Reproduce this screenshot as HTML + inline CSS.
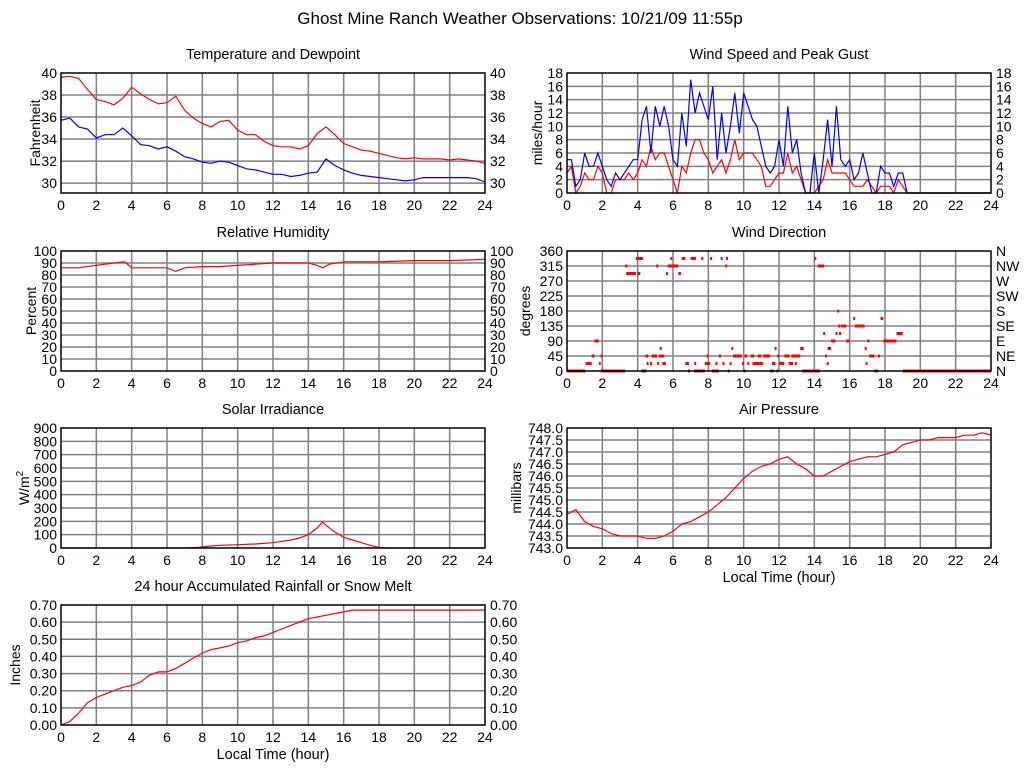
<!DOCTYPE html>
<html><head><meta charset="utf-8"><style>
body{margin:0;background:#fff;}
svg{display:block;font-family:"Liberation Sans",sans-serif;}
</style></head><body>
<svg id="c" width="1024" height="768" viewBox="0 0 1024 768" xmlns="http://www.w3.org/2000/svg">
<rect width="1024" height="768" fill="#fff"/>
<text x="520" y="24" font-size="17" text-anchor="middle">Ghost Mine Ranch Weather Observations: 10/21/09 11:55p</text>
</svg>
<script>
// ---- data ----
const hours05 = [0,0.5,1,1.5,2,2.5,3,3.5,4,4.5,5,5.5,6,6.5,7,7.5,8,8.5,9,9.5,10,10.5,11,11.5,12,12.5,13,13.5,14,14.5,15,15.5,16,16.5,17,17.5,18,18.5,19,19.5,20,20.5,21,21.5,22,22.5,23,23.5,24];
const tempVals = [39.6,39.7,39.5,38.5,37.6,37.4,37.1,37.7,38.7,38.1,37.6,37.2,37.3,37.9,36.6,35.9,35.4,35.1,35.6,35.7,34.8,34.4,34.4,33.8,33.4,33.3,33.3,33.1,33.4,34.5,35.1,34.4,33.6,33.3,33.0,32.9,32.7,32.5,32.3,32.2,32.3,32.2,32.2,32.2,32.1,32.2,32.1,32.0,31.8];
const dewVals = [35.7,35.9,35.1,34.9,34.1,34.4,34.4,35.0,34.3,33.5,33.4,33.1,33.3,32.9,32.4,32.2,31.9,31.8,32.0,31.9,31.6,31.3,31.2,31.0,30.8,30.8,30.6,30.7,30.9,31.0,32.2,31.6,31.2,30.9,30.7,30.6,30.5,30.4,30.3,30.2,30.3,30.5,30.5,30.5,30.5,30.5,30.5,30.4,30.1];
const rhHours = [0,1,2,3,3.6,4,5,6,6.5,7,8,9,10,11,12,13,14,14.5,14.8,15.2,16,17,18,20,22,24];
const rhVals = [86,86,88,90,91,86,86,86,83,86,87,87,88,89,90,90,90,88,86,89,91,91,91,92,92,93];
const solarHours = [0,6,7,7.8,8.5,9,10,11,12,13,13.5,14,14.5,14.8,15.1,15.5,16,16.5,17,17.5,18,18.5,24];
const solarVals = [0,0,0,5,15,20,25,30,40,60,75,100,150,195,160,120,80,60,40,20,5,0,0];
const pressVals = [744.4,744.6,744.1,743.9,743.8,743.6,743.5,743.5,743.5,743.4,743.4,743.5,743.7,744.0,744.1,744.3,744.5,744.8,745.1,745.5,745.9,746.2,746.4,746.5,746.7,746.8,746.5,746.3,746.0,746.0,746.2,746.4,746.6,746.7,746.8,746.8,746.9,747.0,747.3,747.4,747.5,747.5,747.6,747.6,747.6,747.7,747.7,747.8,747.7];
const rainVals = [0,0.02,0.07,0.13,0.16,0.18,0.20,0.22,0.23,0.25,0.29,0.31,0.31,0.33,0.36,0.39,0.42,0.44,0.45,0.46,0.48,0.49,0.51,0.52,0.54,0.56,0.58,0.60,0.62,0.63,0.64,0.65,0.66,0.67,0.67,0.67,0.67,0.67,0.67,0.67,0.67,0.67,0.67,0.67,0.67,0.67,0.67,0.67,0.67];
const gustVals = [5,5,1,2,6,4,4,6,4,2,1,3,2,3,4,5,5,11,13,6,13,10,13,10,5,4,12,7,17,12,15,13,11,16,5,12,6,10,15,9,15,13,11,10,7,4,3,4,8,4,13,6,8,3,0,0,6,0,5,11,4,13,5,4,5,2,3,6,3,0,0,4,3,3,1,3,3,0,0,0,0,0,0,0,0,0,0,0,0,0,0,0,0,0,0,0,0];
const avgVals = [3,4,0,1,3,2,2,4,3,0,0,2,2,2,3,2,3,5,4,7,5,6,6,4,2,0,4,3,6,8,8,6,5,3,4,5,3,5,8,5,6,6,6,5,4,1,1,2,3,3,6,3,4,2,0,0,0,1,2,5,3,3,3,3,2,1,1,1,2,1,0,1,1,1,0,2,1,0,0,0,0,0,0,0,0,0,0,0,0,0,0,0,0,0,0,0,0];
const dirStart = [0,1.05,1.4,1.55,1.8,1.9,1.9,3.3,3.35,3.9,4.0,4.2,4.45,4.5,4.7,4.8,5.05,5.1,5.25,5.2,5.4,5.6,5.7,5.85,6.3,6.5,6.7,6.85,7.0,7.2,7.2,7.6,7.8,7.9,8.1,8.2,8.4,8.6,8.7,8.8,8.95,9.0,9.1,9.2,9.3,9.4,9.9,10.0,10.05,10.2,10.4,10.5,10.8,10.9,11.1,11.5,11.6,11.75,11.85,11.9,12.0,12.3,12.55,12.7,12.9,13.2,13.3,14.0,14.2,14.5,14.6,14.7,14.75,14.95,15.2,15.3,15.35,15.4,15.5,15.8,16.2,16.3,16.85,16.9,17.0,17.1,17.4,17.6,17.75,17.9,18.65,19.0];
const dirEnd = [1.05,1.4,1.55,1.8,1.9,2.0,3.3,3.35,3.9,4.3,4.15,4.5,4.6,4.6,4.8,5.1,5.1,5.2,5.35,5.5,5.6,5.7,6.3,5.9,6.45,6.7,6.9,6.9,7.3,7.3,7.8,7.65,8.1,7.95,8.15,8.6,8.45,8.65,8.8,8.85,9.0,9.1,9.2,9.3,9.4,9.9,10.0,10.05,10.2,10.3,10.6,10.9,11.0,11.1,11.5,11.7,11.8,11.8,11.9,12.0,12.3,12.6,12.8,13.2,13.0,13.4,14.3,14.05,14.55,14.6,14.65,14.8,14.95,15.2,15.25,15.35,15.4,15.5,15.8,16.0,16.3,16.85,16.9,17.0,17.05,17.4,17.6,17.7,17.9,18.65,19.0,24];
const dirDeg = [0,22.5,45,90,22.5,45,0,315,292.5,337.5,292.5,0,45,22.5,22.5,45,315,22.5,67.5,45,22.5,292.5,315,337.5,292.5,337.5,22.5,0,337.5,22.5,0,337.5,22.5,45,337.5,0,22.5,45,337.5,22.5,315,337.5,0,22.5,67.5,45,22.5,0,45,22.5,45,22.5,45,22.5,45,0,22.5,67.5,0,45,22.5,45,22.5,45,22.5,67.5,0,337.5,315,112.5,45,22.5,67.5,90,112.5,180,135,112.5,135,90,157.5,135,67.5,22.5,90,45,0,45,157.5,90,112.5,0];
const hourTicks = [0,2,4,6,8,10,12,14,16,18,20,22,24];
const compassLabels = ["N","NE","E","SE","S","SW","W","NW","N"];

const svg = document.getElementById('c');
const NS = 'http://www.w3.org/2000/svg';
function mk(tag, attrs, parent){ const e=document.createElementNS(NS,tag); for(const k in attrs) e.setAttribute(k,attrs[k]); (parent||svg).appendChild(e); return e; }

function panel(o){
  const g = mk('g',{});
  
  
  const x0=o.x, x1=o.x+424, y0=o.y, y1=o.y+120;
  const sx = h => x0 + h/24*424;
  const sy = v => y1 - (v-o.min)/(o.max-o.min)*120;
  const t = mk('text',{x:(x0+x1)/2, y:y0-14, 'font-size':14.5, 'text-anchor':'middle'}, g);
  t.textContent = o.title;
  
  
  hourTicks.forEach(h=>{
    if(h>0&&h<24) mk('line',{x1:sx(h),x2:sx(h),y1:y0,y2:y1,stroke:'#808080','stroke-width':1.5},g);
    const l = mk('text',{x:sx(h), y:y1+17,'font-size':14,'text-anchor':'middle'},g);
    l.textContent = h;
    
    
  });
  o.ticks.forEach((v,i)=>{
    const y=sy(v);
    if(y>y0+0.5 && y<y1-0.5) mk('line',{x1:x0,x2:x1,y1:y,y2:y,stroke:'#808080','stroke-width':1.5},g);
    const lab = o.fmt(v);
    const l = mk('text',{x:x0-4, y:y+5,'font-size':14,'text-anchor':'end'},g);
    l.textContent = lab;
    
    
    if(o.right){
      const r = mk('text',{x:x1+5, y:y+5,'font-size':14},g);
      r.textContent = o.rightLabels ? o.rightLabels[i] : lab;
      
      
    }
  });
  const ya = mk('text',{x:0,y:0,'font-size':14,'text-anchor':'middle',transform:`translate(${o.ylx},${(y0+y1)/2}) rotate(-90)`},g);
  ya.innerHTML = o.ylabel;
  
  
  if(o.xlabel){
    const xl = mk('text',{x:(x0+x1)/2,y:y1+34,'font-size':14.5,'text-anchor':'middle'},g);
    xl.textContent='Local Time (hour)';
    
    
  }
  (o.series||[]).forEach(s=>{
    const d = s.xs.map((h,i)=>(i?'L':'M')+sx(h).toFixed(1)+','+sy(s.ys[i]).toFixed(1)).join('');
    const p = mk('path',{d:d,fill:'none',stroke:s.color,'stroke-width':1.2},g);
    
    
  });
  if(o.segs){
    o.segs.s.forEach((a,i)=>{
      const r = mk('rect',{x:sx(a),y:sy(o.segs.d[i])-1.5,width:Math.max(2,sx(o.segs.e[i])-sx(a)),height:3,fill:'#f00'},g);
      
      
    });
  }
  mk('rect',{x:x0,y:y0,width:424,height:120,fill:'none',stroke:'#000','stroke-width':1.5},g);
}
const rng=(a,b,s)=>{const r=[];for(let v=a;v<=b+1e-9;v+=s)r.push(+v.toFixed(3));return r;};
const qh = gustVals.map((_,i)=>i*0.25);

panel({name:'temperature-panel',title:'Temperature and Dewpoint',x:61,y:73,min:29.1,max:40,ticks:rng(30,40,2),fmt:v=>v,right:true,ylabel:'Fahrenheit',ylx:40,
  series:[{name:'temperature-line',xs:hours05,ys:tempVals,color:'#f00'},{name:'dewpoint-line',xs:hours05,ys:dewVals,color:'#00f'}]});
panel({name:'wind-speed-panel',title:'Wind Speed and Peak Gust',x:567,y:73,min:0,max:18,ticks:rng(0,18,2),fmt:v=>v,right:true,ylabel:'miles/hour',ylx:542,
  series:[{name:'avg-wind-line',xs:qh,ys:avgVals,color:'#f00'},{name:'gust-line',xs:qh,ys:gustVals,color:'#00f'}]});
panel({name:'humidity-panel',title:'Relative Humidity',x:61,y:251,min:0,max:100,ticks:rng(0,100,10),fmt:v=>v,right:true,ylabel:'Percent',ylx:36,
  series:[{name:'humidity-line',xs:rhHours,ys:rhVals,color:'#f00'}]});
panel({name:'wind-direction-panel',title:'Wind Direction',x:567,y:251,min:0,max:360,ticks:rng(0,360,45),fmt:v=>v,right:true,rightLabels:compassLabels,ylabel:'degrees',ylx:530,
  segs:{s:dirStart,e:dirEnd,d:dirDeg}});
panel({name:'solar-panel',title:'Solar Irradiance',x:61,y:428,min:0,max:900,ticks:rng(0,900,100),fmt:v=>v,right:false,ylabel:'W/m<tspan dy="-6" font-size="10">2</tspan>',ylx:29,
  series:[{name:'solar-line',xs:solarHours,ys:solarVals,color:'#f00'}]});
panel({name:'pressure-panel',title:'Air Pressure',x:567,y:428,min:743,max:748,ticks:rng(743,748,0.5),fmt:v=>v.toFixed(1),right:false,ylabel:'millibars',ylx:521,xlabel:true,
  series:[{name:'pressure-line',xs:hours05,ys:pressVals,color:'#f00'}]});
panel({name:'rainfall-panel',title:'24 hour Accumulated Rainfall or Snow Melt',x:61,y:605,min:0,max:0.7,ticks:rng(0,0.7,0.1),fmt:v=>v.toFixed(2),right:true,ylabel:'Inches',ylx:20,xlabel:true,
  series:[{name:'rainfall-line',xs:hours05,ys:rainVals,color:'#f00'}]});
</script>
</body></html>
